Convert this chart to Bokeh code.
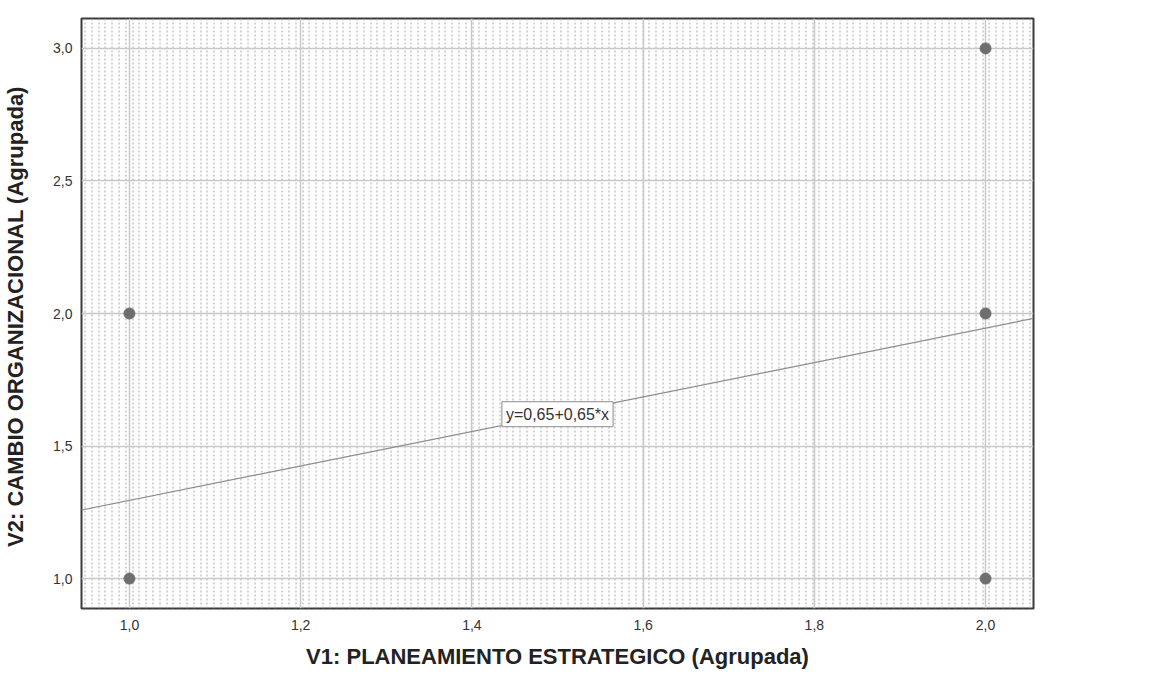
import numpy as np
from bokeh.plotting import figure
from bokeh.models import Label, FixedTicker, Range1d
from bokeh.embed import file_html
from bokeh.resources import INLINE

# ---- data ----
x_points = [1.0, 1.0, 2.0, 2.0, 2.0]
y_points = [1.0, 2.0, 1.0, 2.0, 3.0]
fit_intercept = 0.645
fit_slope = 0.65
r2_value = "0,258"
x_ticks = [1.0, 1.2, 1.4, 1.6, 1.8, 2.0]
x_tick_labels = ["1,0", "1,2", "1,4", "1,6", "1,8", "2,0"]
y_ticks = [1.0, 1.5, 2.0, 2.5, 3.0]
y_tick_labels = ["1,0", "1,5", "2,0", "2,5", "3,0"]
x_label = "V1: PLANEAMIENTO ESTRATEGICO (Agrupada)"
y_label = "V2: CAMBIO ORGANIZACIONAL  (Agrupada)"
eq_label = "y=0,65+0,65*x"

X0, X1 = 0.944, 2.056
Y0, Y1 = 0.887, 3.113
FW, FH = 952, 590

FONT = "Liberation Sans"

p = figure(output_backend="svg", toolbar_location=None,
           x_range=Range1d(X0, X1), y_range=Range1d(Y0, Y1),
           frame_width=FW, frame_height=FH,
           min_border_left=72, min_border_right=110, min_border_top=18, min_border_bottom=40)
p.background_fill_color = "white"
p.border_fill_color = "white"
p.outline_line_color = "#3a3a3a"
p.outline_line_width = 2

# dotted background texture (vertical dashed columns, pixel aligned)
ppu = FW / (X1 - X0)
col_px = np.round(np.arange(3, FW, 6.8)) + 0.5
cols = X0 + col_px / ppu
bg = p.segment(x0=cols, y0=[Y0] * len(cols), x1=cols, y1=[Y1] * len(cols),
               line_color="#a8a8a8", line_width=1, line_dash="2 2")
bg.level = "image"

# grid
p.xgrid.ticker = FixedTicker(ticks=x_ticks)
p.ygrid.ticker = FixedTicker(ticks=y_ticks)
for g in (p.xgrid, p.ygrid):
    g.grid_line_color = "#c8c8c8"
    g.grid_line_width = 1.5

# axes
p.xaxis.ticker = FixedTicker(ticks=x_ticks)
p.yaxis.ticker = FixedTicker(ticks=y_ticks)
p.xaxis.major_label_overrides = dict(zip(x_ticks, x_tick_labels))
p.yaxis.major_label_overrides = dict(zip(y_ticks, y_tick_labels))
for ax in (p.xaxis, p.yaxis):
    ax.axis_line_color = None
    ax.major_tick_line_color = None
    ax.minor_tick_line_color = None
    ax.major_label_text_font = FONT
    ax.major_label_text_font_size = "14px"
    ax.major_label_text_color = "#333333"
    ax.axis_label_text_font = FONT
    ax.axis_label_text_font_style = "bold"
    ax.axis_label_text_font_size = "22px"
    ax.axis_label_text_color = "#222222"
p.xaxis.axis_label = x_label
p.yaxis.axis_label = y_label
p.xaxis.major_label_standoff = 5
p.yaxis.major_label_standoff = 3
p.xaxis.axis_label_standoff = 11
p.yaxis.axis_label_standoff = 22

# regression line
lx = np.array([X0, X1])
ly = fit_intercept + fit_slope * lx
p.line(lx, ly, line_color="#8c8c8c", line_width=1.2)

# points
p.scatter(x_points, y_points, size=11, fill_color="#6e6e6e", line_color="#6e6e6e")

# equation label
xm = (x_ticks[0] + x_ticks[-1]) / 2
p.add_layout(Label(x=xm, y=fit_intercept + fit_slope * xm, text=eq_label,
                   text_font=FONT, text_font_size="16px", text_color="#333333",
                   text_align="center", text_baseline="middle",
                   background_fill_color="white", border_line_color="#8c8c8c",
                   border_line_width=1, padding=4))

# R2 label
p.add_layout(Label(x=X1, y=Y1, x_offset=1, y_offset=-5, text="R² Lineal = " + r2_value,
                   text_font=FONT, text_font_size="13px", text_color="#707070",
                   text_align="left", text_baseline="top"))

open("out.html", "w").write(file_html(p, INLINE))
